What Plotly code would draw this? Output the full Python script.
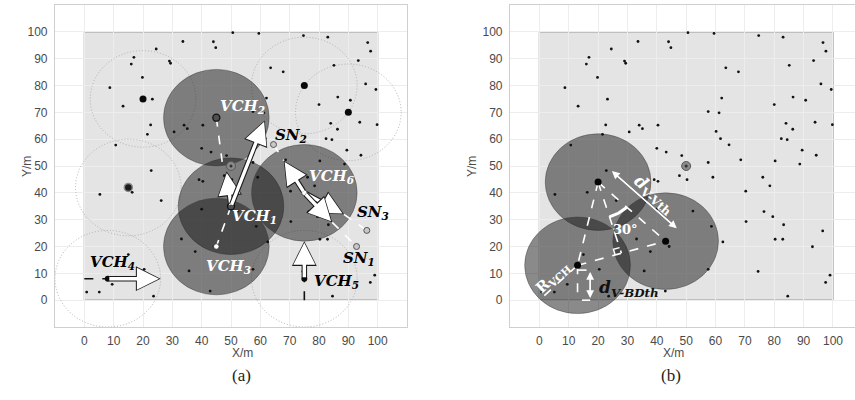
import numpy as np
import plotly.graph_objects as go

# ---- sensor nodes scattered over the 100 m x 100 m field ----
sensor_x = [33.6, 24.5, 16.9, 16.0, 29.0, 29.4, 19.8, 8.7, 23.2, 13.2, 22.6, 21.5, 30.6, 34.0, 35.1,
            10.7, 22.8, 5.3, 16.3, 50.6, 59.5, 74.7, 83.0, 96.6, 97.6, 44.0, 44.8, 93.4, 85.1, 63.5,
            67.8, 95.9, 99.4, 62.1, 86.4, 90.7, 80.0, 57.5, 61.2, 93.9, 84.0, 99.8, 86.3, 40.4, 60.2,
            61.7, 82.4, 84.4, 64.6, 40.0, 43.2, 89.5, 48.5, 94.3, 68.6, 57.5, 80.3, 88.7, 47.7, 50.3,
            59.1, 76.1, 78.5, 70.3, 39.1, 40.4, 76.5, 79.5, 70.4, 83.2, 96.5, 80.3, 82.9, 93.0, 62.5,
            58.6, 52.3, 74.5, 57.5, 99.0, 97.5, 84.6, 40.0, 37.8, 35.7, 44.2, 26.2, 33.1, 15.0, 0.8,
            5.1, 9.5, 20.4, 23.6, 42.9]
sensor_y = [96.4, 93.6, 90.5, 88.0, 89.1, 88.3, 83.0, 79.2, 74.9, 72.3, 65.3, 61.8, 62.7, 65.2, 63.9,
            57.8, 48.3, 39.4, 40.2, 99.7, 99.4, 98.6, 98.0, 96.0, 92.8, 96.3, 94.1, 89.3, 87.5, 86.6,
            85.1, 80.6, 78.5, 75.3, 75.7, 74.5, 72.9, 70.3, 69.8, 66.3, 65.9, 65.4, 63.7, 65.2, 62.9,
            60.2, 60.2, 59.8, 57.9, 56.6, 55.2, 55.9, 53.9, 54.0, 52.3, 51.3, 51.9, 50.7, 46.4, 44.9,
            45.8, 45.8, 42.6, 40.6, 44.9, 44.3, 33.0, 31.1, 29.3, 28.1, 25.8, 22.7, 22.7, 19.9, 21.7,
            27.5, 33.2, 10.7, 11.5, 9.3, 6.6, 1.5, 33.9, 18.1, 10.9, 20.0, 37.1, 22.8, 17.0, 3.0,
            3.0, 5.9, 11.5, 1.5, 3.4]

R_VCH = 18            # coverage radius of a virtual cluster head (m)
FIELD = (0, 100)      # field extent (m)
bs_x, bs_y = [50], [50]   # base station

# ---- panel (a): cluster heads ----
vch_active_names = ["VCH1", "VCH2", "VCH3", "VCH6"]
vch_active_x = [50, 45, 45, 75]
vch_active_y = [35, 68, 20, 40]
ch_idle_x = [20, 75, 90, 15, 8, 75]
ch_idle_y = [75, 80, 70, 42, 8, 8]
sn_names = ["SN1", "SN2", "SN3"]
sn_x = [92.8, 64.5, 96.3]
sn_y = [20.0, 58.0, 26.0]

# movement arrows: (start x, start y, end x, end y)
move_x0 = [50, 50, 75, 75, 75, 75, 8]
move_y0 = [35, 35, 40, 40, 40, 8, 8]
move_x1 = [48.5, 61.5, 68, 88.5, 84.5, 75, 26]
move_y1 = [48, 67, 52, 32, 29, 22, 8]

# white dashed links (x0, y0, x1, y1)
link_a = [(45, 68, 47, 51.5), (50, 35, 45, 20), (64.5, 58, 68, 52),
          (88.5, 32, 96.3, 26), (84.5, 29, 92.8, 20)]
# black dashed tails
tail_a = [(0, 8, 8, 8), (75, 0, 75, 8)]

# labels (text, x, y, colour)
labels_a = [("VCH<sub>2</sub>", 54, 72, "white"), ("VCH<sub>1</sub>", 58, 31, "white"),
            ("VCH<sub>3</sub>", 49, 12.5, "white"), ("VCH<sub>6</sub>", 84.5, 46, "white"),
            ("SN<sub>2</sub>", 70.5, 61.5, "black"), ("SN<sub>3</sub>", 98.5, 32.5, "black"),
            ("SN<sub>1</sub>", 93.5, 15.5, "black"), ("VCH<sub>5</sub>", 86, 7, "black"),
            ("VCH<sub>4</sub>", 9.5, 14, "black")]

# ---- panel (b): three virtual cluster heads ----
vch_b_x = [20, 13, 43]
vch_b_y = [44, 13, 22]

ticks = list(range(0, 101, 10))
TICK_FONT = dict(family="Liberation Sans, Arial", size=12, color="#4a4a4a")
LABEL_FONT = "DejaVu Serif"

fig = go.Figure()
shapes = []
annotations = []

FILL = "rgba(22,22,22,0.5)"
EDGE = "rgba(60,60,60,0.55)"


def circle(cx, cy, r, xr, yr, filled=True):
    if filled:
        return dict(type="circle", xref=xr, yref=yr, x0=cx - r, x1=cx + r, y0=cy - r, y1=cy + r,
                    fillcolor=FILL, line=dict(color=EDGE, width=0.8), layer="between")
    return dict(type="circle", xref=xr, yref=yr, x0=cx - r, x1=cx + r, y0=cy - r, y1=cy + r,
                line=dict(color="#a9a9a9", width=0.9, dash="1px,2px"), layer="between")


def field(xr, yr):
    return dict(type="rect", xref=xr, yref=yr, x0=FIELD[0], x1=FIELD[1], y0=FIELD[0], y1=FIELD[1],
                fillcolor="#e4e4e4", line=dict(color="#9a9a9a", width=1.2), layer="below")


def arrow(x0, y0, x1, y1, xr, yr):
    # hollow-looking arrow: dark outline arrow with a white arrow on top
    common = dict(x=x1, y=y1, ax=x0, ay=y0, xref=xr, yref=yr, axref=xr, ayref=yr,
                  text="", showarrow=True, arrowhead=2)
    return [dict(common, arrowcolor="#1a1a1a", arrowwidth=5.5, arrowsize=0.9),
            dict(common, arrowcolor="white", arrowwidth=3.4, arrowsize=1.3, standoff=1.6)]


def seg_trace(segs, xr, yr, color, width, dash):
    xs, ys = [], []
    for x0, y0, x1, y1 in segs:
        xs += [x0, x1, None]
        ys += [y0, y1, None]
    return go.Scatter(x=xs, y=ys, mode="lines", xaxis=xr, yaxis=yr, hoverinfo="skip",
                      line=dict(color=color, width=width, dash=dash), showlegend=False)


# ================= panel (a) =================
shapes.append(field("x", "y"))
for cx, cy in zip(ch_idle_x, ch_idle_y):
    shapes.append(circle(cx, cy, R_VCH, "x", "y", filled=False))
for cx, cy in zip(vch_active_x, vch_active_y):
    shapes.append(circle(cx, cy, R_VCH, "x", "y", filled=True))

fig.add_trace(go.Scatter(x=sensor_x, y=sensor_y, mode="markers", xaxis="x", yaxis="y",
                         marker=dict(size=2.8, color="#111"), showlegend=False))
fig.add_trace(seg_trace(link_a, "x", "y", "white", 1.6, "dash"))
fig.add_trace(seg_trace(tail_a, "x", "y", "#111", 1.6, "dash"))
# base station
fig.add_trace(go.Scatter(x=bs_x, y=bs_y, mode="markers", xaxis="x", yaxis="y",
                         marker=dict(size=9, color="#8a8a8a", line=dict(color="#5a5a5a", width=1)),
                         showlegend=False))
fig.add_trace(go.Scatter(x=bs_x, y=bs_y, mode="markers", xaxis="x", yaxis="y",
                         marker=dict(size=3, color="#333"), showlegend=False))
# idle cluster heads
fig.add_trace(go.Scatter(x=ch_idle_x[:3], y=ch_idle_y[:3], mode="markers", xaxis="x", yaxis="y",
                         marker=dict(size=7, color="#0a0a0a"), showlegend=False))
fig.add_trace(go.Scatter(x=ch_idle_x[3:4], y=ch_idle_y[3:4], mode="markers", xaxis="x", yaxis="y",
                         marker=dict(size=8, color="#1a1a1a", line=dict(color="#8a8a8a", width=1.5)),
                         showlegend=False))
fig.add_trace(go.Scatter(x=ch_idle_x[4:], y=ch_idle_y[4:], mode="markers", xaxis="x", yaxis="y",
                         marker=dict(size=6, color="#0a0a0a"), showlegend=False))
# active cluster-head centres
fig.add_trace(go.Scatter(x=vch_active_x[:2], y=vch_active_y[:2], mode="markers", xaxis="x", yaxis="y",
                         marker=dict(size=7, color="#505050", line=dict(color="#111", width=1.3)),
                         showlegend=False))
fig.add_trace(go.Scatter(x=vch_active_x[2:], y=vch_active_y[2:], mode="markers", xaxis="x", yaxis="y",
                         marker=dict(size=5.5, color="white", line=dict(color="#333", width=0.8)),
                         showlegend=False))
# sensor nodes SN1..SN3
fig.add_trace(go.Scatter(x=sn_x, y=sn_y, mode="markers", xaxis="x", yaxis="y",
                         marker=dict(size=6, color="#c8c8c8", line=dict(color="#555", width=1)),
                         showlegend=False))

for x0, y0, x1, y1 in zip(move_x0, move_y0, move_x1, move_y1):
    annotations += arrow(x0, y0, x1, y1, "x", "y")

for txt, lx, ly, col in labels_a:
    annotations.append(dict(x=lx, y=ly, xref="x", yref="y", showarrow=False,
                            text=f"<b><i>{txt}</i></b>",
                            font=dict(family=LABEL_FONT, size=15, color=col)))

# ================= panel (b) =================
shapes.append(field("x2", "y2"))
for cx, cy in zip(vch_b_x, vch_b_y):
    shapes.append(circle(cx, cy, R_VCH, "x2", "y2", filled=True))

fig.add_trace(go.Scatter(x=sensor_x, y=sensor_y, mode="markers", xaxis="x2", yaxis="y2",
                         marker=dict(size=2.8, color="#111"), showlegend=False))

# geometry of the three heads
(ax_, ay_), (bx_, by_), (cx_, cy_) = zip(vch_b_x, vch_b_y)
dx, dy = cx_ - bx_, cy_ - by_
t = ((ax_ - bx_) * dx + (ay_ - by_) * dy) / (dx * dx + dy * dy)
foot_x, foot_y = bx_ + t * dx, by_ + t * dy
ang = np.deg2rad(225)
rad_end = (bx_ + R_VCH * np.cos(ang), by_ + R_VCH * np.sin(ang))

links_b = [(ax_, ay_, bx_, by_), (ax_, ay_, cx_, cy_), (bx_, by_, cx_, cy_),
           (ax_, ay_, foot_x, foot_y), (bx_, by_, rad_end[0], rad_end[1]),
           (bx_, by_, bx_, 0), (bx_, 11.2, 17.3, 11.2), (14.5, 0, 17.3, 0)]
fig.add_trace(seg_trace(links_b, "x2", "y2", "white", 1.6, "dash"))

# right-angle mark at the foot of the perpendicular
ux, uy = -dx / np.hypot(dx, dy), -dy / np.hypot(dx, dy)
vx, vy = (ax_ - foot_x) / np.hypot(ax_ - foot_x, ay_ - foot_y), (ay_ - foot_y) / np.hypot(ax_ - foot_x, ay_ - foot_y)
s = 2.2
fig.add_trace(go.Scatter(x=[foot_x + s * ux, foot_x + s * ux + s * vx, foot_x + s * vx],
                         y=[foot_y + s * uy, foot_y + s * uy + s * vy, foot_y + s * vy],
                         mode="lines", xaxis="x2", yaxis="y2", hoverinfo="skip",
                         line=dict(color="white", width=1.4), showlegend=False))

# 30 degree arc
a0 = np.arctan2(foot_y - ay_, foot_x - ax_)
a1 = np.arctan2(cy_ - ay_, cx_ - ax_)
th = np.linspace(a0, a1, 20)
fig.add_trace(go.Scatter(x=ax_ + 13.5 * np.cos(th), y=ay_ + 13.5 * np.sin(th), mode="lines",
                         xaxis="x2", yaxis="y2", hoverinfo="skip",
                         line=dict(color="white", width=3), showlegend=False))

fig.add_trace(go.Scatter(x=bs_x, y=bs_y, mode="markers", xaxis="x2", yaxis="y2",
                         marker=dict(size=9, color="#8a8a8a", line=dict(color="#5a5a5a", width=1)),
                         showlegend=False))
fig.add_trace(go.Scatter(x=bs_x, y=bs_y, mode="markers", xaxis="x2", yaxis="y2",
                         marker=dict(size=3, color="#333"), showlegend=False))
fig.add_trace(go.Scatter(x=vch_b_x, y=vch_b_y, mode="markers", xaxis="x2", yaxis="y2",
                         marker=dict(size=7, color="#050505"), showlegend=False))

# dimension arrows (white, double headed)
def dim_arrow(x0, y0, x1, y1):
    base = dict(xref="x2", yref="y2", axref="x2", ayref="y2", text="", showarrow=True,
                arrowhead=2, arrowsize=1.2, arrowwidth=1.3, arrowcolor="white")
    return [dict(base, x=x1, y=y1, ax=x0, ay=y0), dict(base, x=x0, y=y0, ax=x1, ay=y1)]

annotations += dim_arrow(24.7, 48.1, 46.8, 26.8)
annotations += dim_arrow(17.3, 10.5, 17.3, 0.8)

annotations += [
    dict(x=38.9, y=39.3, xref="x2", yref="y2", showarrow=False, textangle=41,
         text="<b><i>d</i><sub>V-Vth</sub></b>", font=dict(family=LABEL_FONT, size=17, color="white")),
    dict(x=4.6, y=8.6, xref="x2", yref="y2", showarrow=False, textangle=-42,
         text="<b>R<sub>VCH</sub></b>", font=dict(family=LABEL_FONT, size=15, color="white")),
    dict(x=19.5, y=4.3, xref="x2", yref="y2", showarrow=False, xanchor="left",
         text="<b><i>d<sub>V-BDth</sub></i></b>", font=dict(family=LABEL_FONT, size=17, color="#111")),
    dict(x=29.3, y=26.2, xref="x2", yref="y2", showarrow=False,
         text="<b>30°</b>", font=dict(family=LABEL_FONT, size=13, color="white")),
]

# ---- axis titles and panel captions ----
title_font = dict(family="Liberation Sans, Arial", size=12, color="#4a4a4a")
cap_font = dict(family="Liberation Serif, Times New Roman", size=17, color="#222")
annotations += [
    dict(x=230 / 855, y=1 - 362 / 400, xref="paper", yref="paper", text="X/m", showarrow=False, font=title_font),
    dict(x=18 / 855, y=1 - 167 / 400, xref="paper", yref="paper", text="Y/m", showarrow=False,
         textangle=-90, font=title_font),
    dict(x=686 / 855, y=1 - 362 / 400, xref="paper", yref="paper", text="X/m", showarrow=False, font=title_font),
    dict(x=472 / 855, y=1 - 167 / 400, xref="paper", yref="paper", text="Y/m", showarrow=False,
         textangle=-90, font=title_font),
    dict(x=230 / 855, y=1 - 387 / 400, xref="paper", yref="paper", text="(a)", showarrow=False, font=cap_font),
    dict(x=683 / 855, y=1 - 387 / 400, xref="paper", yref="paper", text="(b)", showarrow=False, font=cap_font),
]

axis_common = dict(tickvals=ticks, showgrid=True, gridcolor="#ededed", gridwidth=1, zeroline=False,
                   showline=True, mirror=True, linecolor="#cfcfcf", linewidth=1.2,
                   tickfont=TICK_FONT, ticks="outside", tickcolor="rgba(0,0,0,0)")
ydom = [1 - 327 / 400, 1 - 5 / 400]

fig.update_layout(
    width=855, height=400, margin=dict(l=0, r=0, t=0, b=0),
    paper_bgcolor="white", plot_bgcolor="white",
    xaxis=dict(axis_common, domain=[55 / 855, 407 / 855], range=[-10, 110], ticklen=2, anchor="y"),
    yaxis=dict(axis_common, domain=ydom, range=[-10, 110], ticklen=4, anchor="x"),
    xaxis2=dict(axis_common, domain=[510 / 855, 1.0], range=[-10, 107.5], ticklen=2, anchor="y2"),
    yaxis2=dict(axis_common, domain=ydom, range=[-10, 110], ticklen=4, anchor="x2"),
    shapes=shapes, annotations=annotations, showlegend=False,
)

fig.write_html("out.html")
